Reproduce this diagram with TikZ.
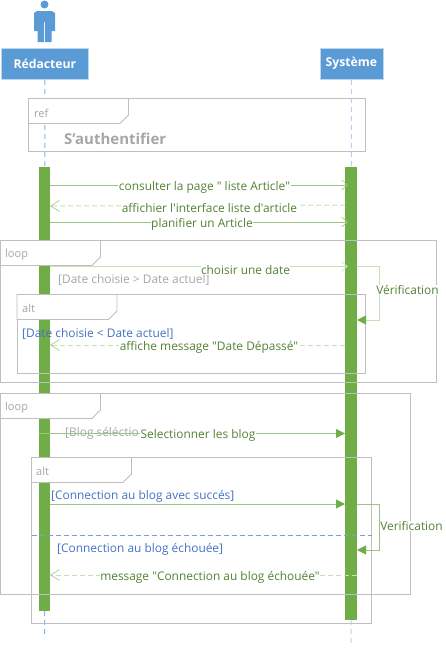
\documentclass[tikz,border=0pt]{standalone}
\usepackage{fontspec}
\setmainfont[Ligatures=TeXOff]{Open Sans}
\usetikzlibrary{arrows.meta}
\definecolor{actorblue}{HTML}{5B9BD5}
\definecolor{actoredge}{HTML}{BDD7EE}
\definecolor{lifeA}{HTML}{85B6E0}
\definecolor{lifeB}{HTML}{BDD0E9}
\definecolor{barG}{HTML}{70AD47}
\definecolor{msgG}{HTML}{9CC583}
\definecolor{dashG}{HTML}{C5E0B4}
\definecolor{txtG}{HTML}{548235}
\definecolor{frameC}{HTML}{BFBFBF}
\definecolor{frameT}{HTML}{A6A6A6}
\definecolor{guardB}{HTML}{4472C4}
\tikzset{
  actorbox/.style={draw=actoredge,line width=0.8pt,fill=actorblue,text=white,inner sep=0pt,anchor=north west,font=\fontsize{12.2}{14}\selectfont\bfseries},
  lifeline/.style={dashed,dash pattern=on 5pt off 4pt,line width=1pt},
  activation/.style={fill=barG,draw=none,inner sep=0pt,anchor=north west},
  framebox/.style={draw=frameC,line width=0.9pt},
  tabbox/.style={draw=frameC,line width=0.9pt,fill=white},
  tabtext/.style={text=frameT,font=\fontsize{11}{13}\selectfont,inner sep=0pt,anchor=west},
  msg/.style={draw=msgG,line width=0.9pt,-{Straight Barb[length=6pt,width=10pt,line width=0.6pt]}},
  msgfill/.style={draw=msgG,line width=0.9pt,-{Triangle[length=9pt,width=9pt,color=barG,fill=barG]}},
  ret/.style={draw=dashG,line width=1pt,dashed,dash pattern=on 5pt off 3pt,-{Straight Barb[length=9pt,width=11pt,line width=0.6pt,color=msgG]}},
  selfm/.style={draw=dashG,line width=1pt,-{Triangle[length=9pt,width=9pt,color=barG,fill=barG]}},
  selfn/.style={draw=msgG,line width=0.9pt,-{Triangle[length=9pt,width=9pt,color=barG,fill=barG]}},
  lab/.style={fill=white,text=txtG,inner xsep=0.5pt,inner ysep=0.5pt,font=\fontsize{11.9}{14}\selectfont},
  guardg/.style={text=frameT,inner sep=0pt,anchor=west,font=\fontsize{11.9}{14}\selectfont},
  guardb/.style={text=guardB,inner sep=0pt,anchor=west,font=\fontsize{11.9}{14}\selectfont},
  person/.style={fill=actorblue,draw=none}
}
\begin{document}
\begin{tikzpicture}[x=1pt,y=-1pt]
\useasboundingbox (0,0) rectangle (445,670);
% actors
\fill[person] (44.5,4.5) circle (4pt);
\fill[person] (37,11) -- (52,11) -- (55,13) -- (55,31) -- (51.5,31) -- (51.5,42) -- (45,42) -- (45,22) -- (44,22) -- (44,42) -- (37.5,42) -- (37.5,31) -- (34,31) -- (34,13) -- cycle;
\node[actorbox,minimum width=87pt,minimum height=31.5pt] (red) at (1,47.5) {Rédacteur};
\node[actorbox,minimum width=63pt,minimum height=31.5pt] (sys) at (319.5,47.5) {Système};
\coordinate (redend) at (44.5,638);
\coordinate (sysend) at (351,647);
\draw[lifeline,lifeA] (red.south) -- (redend);
\draw[lifeline,lifeB] (sys.south) -- (sysend);
% activations
\node[activation,minimum width=11pt,minimum height=444pt] (barA) at (39,167) {};
\node[activation,minimum width=12pt,minimum height=453pt] (barB) at (345,167) {};
% frames
\node[framebox,inner sep=0pt,anchor=north west,minimum width=337pt,minimum height=53pt] (refF) at (28,98) {};
\draw[tabbox] (28.5,98.5) -- (128.5,98.5) -- (128.5,115) -- (120,123.5) -- (28.5,123.5) -- cycle;
\node[tabtext] (refT) at (34,113) {ref};
\node[anchor=west,inner sep=0pt,text=frameT,font=\fontsize{15}{17}\selectfont\bfseries] (refL) at (64,139) {S’authentifier};

\node[framebox,inner sep=0pt,anchor=north west,minimum width=435.5pt,minimum height=141.5pt] (loopA) at (0,240) {};
\draw[tabbox] (0.5,240.5) -- (100.5,240.5) -- (100.5,257) -- (92,265.5) -- (0.5,265.5) -- cycle;
\node[tabtext] (loopAT) at (5,254.5) {loop};

\node[framebox,inner sep=0pt,anchor=north west,minimum width=348pt,minimum height=78.5pt] (altA) at (16.5,294) {};
\draw[tabbox] (17,294.5) -- (117,294.5) -- (117,311) -- (108.5,319.5) -- (17,319.5) -- cycle;
\node[tabtext] (altAT) at (22,308.5) {alt};

\node[framebox,inner sep=0pt,anchor=north west,minimum width=409.5pt,minimum height=201pt] (loopB) at (0,393) {};
\draw[tabbox] (0.5,393.5) -- (100.5,393.5) -- (100.5,410) -- (92,418.5) -- (0.5,418.5) -- cycle;
\node[tabtext] (loopBT) at (5,407.5) {loop};

\node[framebox,inner sep=0pt,anchor=north west,minimum width=340pt,minimum height=166pt] (altB) at (31,457) {};
\draw[tabbox] (31.5,457.5) -- (131.5,457.5) -- (131.5,474) -- (123,482.5) -- (31.5,482.5) -- cycle;
\node[tabtext] (altBT) at (36,471.5) {alt};
\coordinate (sepL) at (31.5,535.5);
\coordinate (sepR) at (371.5,535.5);
\draw[guardB!70,line width=0.8pt,dashed,dash pattern=on 5pt off 3pt] (sepL) -- (sepR);

% guards
\node[guardg] (g1) at (58,280) {[Date choisie > Date actuel]};
\node[guardb] (g2) at (22,333.5) {[Date choisie < Date actuel]};
\node[guardg] (g3) at (65,433.5) {[Blog séléctio};
\node[guardb] (g4) at (51,496.5) {[Connection au blog avec succés]};
\node[guardb] (g5) at (57,549.5) {[Connection au blog échouée]};

% message end points
\coordinate (a1) at (50,185);   \coordinate (b1) at (348,185);
\coordinate (b2) at (345,205);  \coordinate (a2) at (50,206);
\coordinate (a3) at (50,222);   \coordinate (b3) at (348,222);
\coordinate (a4) at (50,266.5); \coordinate (b4) at (348,266.5);
\coordinate (b5) at (345,345);  \coordinate (a5) at (50,345);
\coordinate (a6) at (39,433.5); \coordinate (b6) at (345,433.5);
\coordinate (a7) at (50,504);   \coordinate (b7) at (345,504);
\coordinate (b8) at (357,575);  \coordinate (a8) at (50,575);
\coordinate (s1) at (357,266.5);\coordinate (s1a) at (379,266.5);\coordinate (s1b) at (379,320);\coordinate (s1c) at (357,320);
\coordinate (s2) at (357,504);  \coordinate (s2a) at (379,504);  \coordinate (s2b) at (379,550);\coordinate (s2c) at (357,550);

\draw[msg] (a1) -- (b1);
\draw[ret] (b2) -- (a2);
\draw[msg] (a3) -- (b3);
\draw[msg,dashG] (a4) -- (b4);
\draw[ret] (b5) -- (a5);
\draw[msgfill] (a6) -- (b6);
\draw[msgfill] (a7) -- (b7);
\draw[ret] (b8) -- (a8);
\draw[selfm] (s1) -- (s1a) -- (s1b) -- (s1c);
\draw[selfn] (s2) -- (s2a) -- (s2b) -- (s2c);

% labels
\node[lab] (l1) at (204.5,187) {consulter la page " liste Article"};
\node[lab] (l2) at (209.5,208) {affichier l'interface liste d'article};
\node[lab] (l3) at (202,224) {planifier un Article};
\node[lab] (l4) at (245.5,270) {choisir une date};
\node[lab] (l5) at (407.5,290) {Vérification};
\node[lab] (l6) at (209,347) {affiche message "Date Dépassé"};
\node[lab] (l7) at (198,435) {Selectionner les blog};
\node[lab] (l8) at (411.5,526) {Verification};
\node[lab] (l9) at (210,577) {message "Connection au blog échouée"};
\end{tikzpicture}
\end{document}
